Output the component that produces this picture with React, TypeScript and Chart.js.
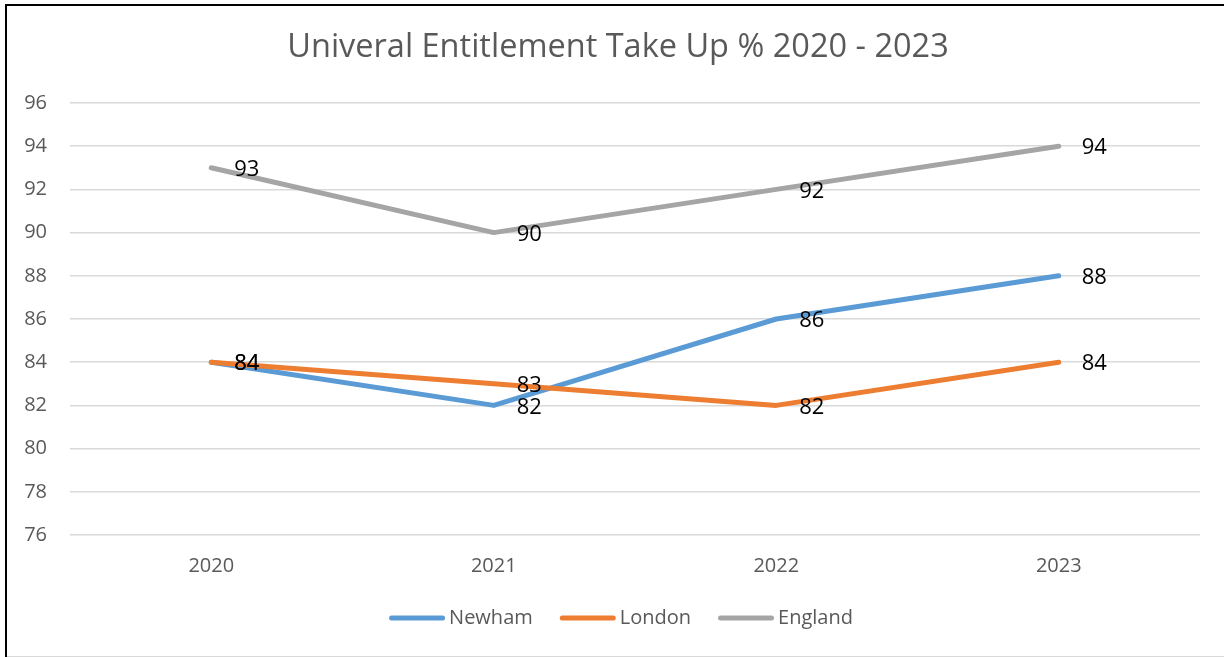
import React, { useEffect, useRef } from "react";
import { Chart, registerables } from "chart.js";
Chart.register(...registerables);

const years = ["2020", "2021", "2022", "2023"];
const newham = [84, 82, 86, 88];
const london = [84, 83, 82, 84];
const england = [93, 90, 92, 94];
const seriesNames = ["Newham", "London", "England"];
const seriesColors = ["#5B9BD5", "#ED7D31", "#A5A5A5"];
const yMin = 76;
const yMax = 96;
const yStep = 2;
const titleText = "Univeral Entitlement Take Up % 2020 - 2023";

const FONT = "'Open Sans', 'DejaVu Sans', sans-serif";
const W = 1224;
const H = 657;

const chartPlugin = {
  id: "excelLook",
  beforeDraw(chart: any) {
    const { ctx, width, height } = chart;
    ctx.save();
    ctx.fillStyle = "#ffffff";
    ctx.fillRect(0, 0, width, height);
    ctx.fillStyle = "#000000";
    ctx.fillRect(5, 4, width - 5, 2);
    ctx.fillRect(5, 4, 2, height - 4);
    ctx.fillStyle = "#D9D9D9";
    ctx.fillRect(7, height - 1, width - 7, 1);
    ctx.font = `32.5px ${FONT}`;
    ctx.fillStyle = "#595959";
    ctx.textAlign = "center";
    ctx.textBaseline = "middle";
    ctx.fillText(titleText, 618, 48);
    ctx.restore();
  },
  afterDatasetsDraw(chart: any) {
    const { ctx } = chart;
    ctx.save();
    ctx.font = `22px ${FONT}`;
    ctx.fillStyle = "#000000";
    ctx.textAlign = "left";
    ctx.textBaseline = "middle";
    chart.data.datasets.forEach((ds: any, di: number) => {
      const meta = chart.getDatasetMeta(di);
      meta.data.forEach((pt: any, i: number) => {
        ctx.fillText(String(ds.data[i]), pt.x + 23, pt.y + 2);
      });
    });
    ctx.restore();
  },
  afterDraw(chart: any) {
    const { ctx } = chart;
    ctx.save();
    ctx.font = `20px ${FONT}`;
    const lineW = 56;
    const gap = 4;
    const itemGap = 27;
    const widths = seriesNames.map((n) => ctx.measureText(n).width);
    const total =
      widths.reduce((a, b) => a + b + lineW + gap, 0) + itemGap * (seriesNames.length - 1);
    let x = 621 - total / 2;
    const y = 618;
    seriesNames.forEach((name, i) => {
      ctx.strokeStyle = seriesColors[i];
      ctx.lineWidth = 5;
      ctx.lineCap = "round";
      ctx.beginPath();
      ctx.moveTo(x + 2.5, y);
      ctx.lineTo(x + lineW - 2.5, y);
      ctx.stroke();
      ctx.fillStyle = "#595959";
      ctx.textAlign = "left";
      ctx.textBaseline = "middle";
      ctx.fillText(name, x + lineW + gap, y);
      x += lineW + gap + widths[i] + itemGap;
    });
    ctx.restore();
  },
};

export default function App() {
  const ref = useRef<HTMLCanvasElement>(null);
  useEffect(() => {
    document.body.style.margin = "0";
    const seriesData = [newham, london, england];
    const chart = new Chart(ref.current as HTMLCanvasElement, {
      type: "line",
      data: {
        labels: years,
        datasets: seriesNames.map((name, i) => ({
          label: name,
          data: seriesData[i],
          borderColor: seriesColors[i],
          backgroundColor: seriesColors[i],
          borderWidth: 5,
          borderCapStyle: "round",
          borderJoinStyle: "round",
          pointRadius: 0,
          pointHoverRadius: 0,
          tension: 0,
          fill: false,
          order: 3 - i,
        })),
      },
      options: {
        responsive: false,
        animation: false,
        events: [],
        layout: { padding: { top: 103, bottom: 72, left: 0, right: 24 } },
        plugins: {
          legend: { display: false },
          title: { display: false },
          tooltip: { enabled: false },
        },
        scales: {
          x: {
            offset: true,
            grid: { display: false, drawTicks: false },
            border: { display: false },
            ticks: {
              color: "#595959",
              font: { family: FONT, size: 20 },
              padding: 19,
              maxRotation: 0,
            },
            afterFit: (s: any) => {
              s.height = 50;
            },
          },
          y: {
            min: yMin,
            max: yMax,
            grid: { color: "#D9D9D9", lineWidth: 1.5, drawTicks: false },
            border: { display: false },
            ticks: {
              stepSize: yStep,
              color: "#595959",
              font: { family: FONT, size: 20 },
              padding: 23,
            },
            afterFit: (s: any) => {
              s.width = 70;
            },
          },
        },
      } as any,
      plugins: [chartPlugin],
    });
    return () => chart.destroy();
  }, []);
  return (
    <canvas
      ref={ref}
      width={W}
      height={H}
      style={{ position: "fixed", left: 0, top: 0, width: W, height: H, display: "block" }}
    />
  );
}
